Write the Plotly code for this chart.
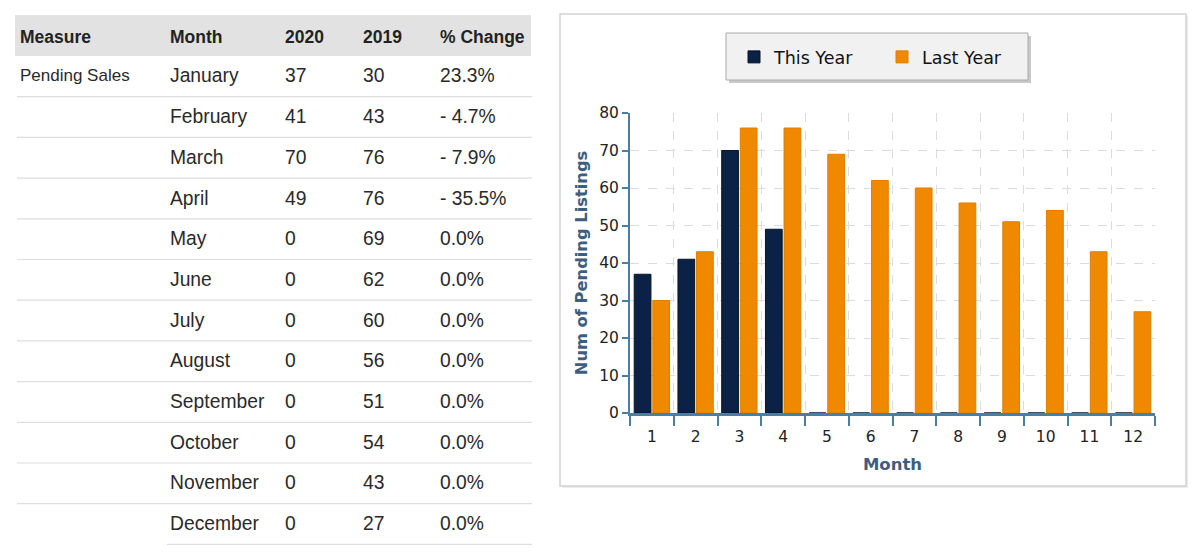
import plotly.graph_objects as go

W, H = 1200, 556

# ---------------- data ----------------
months_full = ["January", "February", "March", "April", "May", "June", "July",
               "August", "September", "October", "November", "December"]
month_nums = ["1", "2", "3", "4", "5", "6", "7", "8", "9", "10", "11", "12"]
this_year = [37, 41, 70, 49, 0, 0, 0, 0, 0, 0, 0, 0]
last_year = [30, 43, 76, 76, 69, 62, 60, 56, 51, 54, 43, 27]
pct_change = ["23.3%", "- 4.7%", "- 7.9%", "- 35.5%", "0.0%", "0.0%", "0.0%",
              "0.0%", "0.0%", "0.0%", "0.0%", "0.0%"]
measure_col = ["Pending Sales"] + [""] * 11
header_labels = ["Measure", "Month", "2020", "2019", "% Change"]
y_ticks = [0, 10, 20, 30, 40, 50, 60, 70, 80]

# page offset of the graph div (body margin)
OX, OY = 8, 8


def X(px):
    return (px - OX) / W


def Y(py):
    return 1 - (py - OY) / H


NAVY = "#0b2145"
ORANGE = "#f08800"
AXIS = "#4a7ea2"
TITLE = "#3d5e80"
CHART_FONT = "DejaVu Sans"

# ---------------- table ----------------
tbl_top = 19
hdr_h = 41
row_h = 40.7
col_w = [150, 115, 78, 77, 125]

fig = go.Figure()

fig.add_trace(go.Table(
    domain=dict(x=[X(12), X(12 + sum(col_w))], y=[0, Y(tbl_top)]),
    columnwidth=col_w,
    header=dict(
        values=["<b>%s</b>" % h for h in header_labels],
        align="left",
        height=hdr_h,
        fill=dict(color="rgba(0,0,0,0)"),
        line=dict(color="rgba(0,0,0,0)", width=0),
        font=dict(family="Liberation Sans, Arial", size=17.5, color="#222222"),
    ),
    cells=dict(
        values=[measure_col, months_full, this_year, last_year, pct_change],
        align="left",
        height=row_h,
        fill=dict(color="rgba(0,0,0,0)"),
        line=dict(color="rgba(0,0,0,0)", width=0),
        font=dict(family="Liberation Sans, Arial",
                  size=[17, 19.3, 19.3, 19.3, 19.3], color="#2a2a2a"),
    ),
))

# ---------------- bars ----------------
fig.add_trace(go.Bar(
    x=month_nums, y=this_year, name="This Year",
    marker=dict(color=NAVY, line=dict(color="#061628", width=1)),
))
fig.add_trace(go.Bar(
    x=month_nums, y=last_year, name="Last Year",
    marker=dict(color=ORANGE, line=dict(color="#e07e00", width=1)),
))

shapes = []
# table header background
shapes.append(dict(type="rect", xref="paper", yref="paper",
                   x0=X(15), x1=X(531), y0=Y(15), y1=Y(56),
                   fillcolor="#e2e2e2", line=dict(width=0), layer="below"))
# table row rules
for k in range(1, 13):
    yy = 56 + row_h * k
    x0 = 17 if k < 12 else 167
    shapes.append(dict(type="line", xref="paper", yref="paper",
                       x0=X(x0), x1=X(532), y0=Y(yy), y1=Y(yy),
                       line=dict(color="#dedede", width=1.2), layer="below"))
# chart panel shadow + panel
shapes.append(dict(type="rect", xref="paper", yref="paper",
                   x0=X(562), x1=X(1188), y0=Y(16), y1=Y(488),
                   fillcolor="#ececec", line=dict(width=0), layer="below"))
shapes.append(dict(type="rect", xref="paper", yref="paper",
                   x0=X(560), x1=X(1186), y0=Y(14), y1=Y(486),
                   fillcolor="white", line=dict(color="#d2d2d2", width=1.5),
                   layer="below"))
# legend box shadow + box
shapes.append(dict(type="rect", xref="paper", yref="paper",
                   x0=X(729), x1=X(1031), y0=Y(36), y1=Y(83),
                   fillcolor="#c9c9c9", line=dict(width=0), layer="above"))
shapes.append(dict(type="rect", xref="paper", yref="paper",
                   x0=X(726), x1=X(1028), y0=Y(33), y1=Y(80),
                   fillcolor="#f1f1f1", line=dict(color="#aaaaaa", width=1),
                   layer="above"))

fig.update_layout(
    width=W, height=H, autosize=False,
    margin=dict(l=0, r=0, t=0, b=0, pad=0, autoexpand=False),
    paper_bgcolor="white", plot_bgcolor="rgba(0,0,0,0)",
    barmode="group", bargap=0.15, bargroupgap=0.1,
    font=dict(family=CHART_FONT, size=16, color="#222222"),
    shapes=shapes,
    showlegend=True,
    legend=dict(
        orientation="h", x=X(734), xanchor="left", y=Y(39), yanchor="top",
        bgcolor="rgba(0,0,0,0)", borderwidth=0,
        font=dict(family=CHART_FONT, size=17.5, color="#111111"),
        entrywidth=103, entrywidthmode="pixels", traceorder="normal",
    ),
    xaxis=dict(
        domain=[X(630), X(1155)], type="category", automargin=False,
        tickson="boundaries", ticks="outside", ticklen=10, tickwidth=2,
        tickcolor=AXIS, showline=True, linecolor=AXIS, linewidth=3,
        showgrid=True, gridcolor="#dcdcdc", griddash="dash", gridwidth=1,
        ticklabelstandoff=7,
        tickfont=dict(family=CHART_FONT, size=15.5, color="#222222"),
        title=dict(text="<b>Month</b>",
                   font=dict(family=CHART_FONT, size=16.5, color=TITLE),
                   standoff=14),
        zeroline=False,
    ),
    yaxis=dict(
        domain=[Y(413), Y(113)], range=[0, 80], tickvals=y_ticks,
        automargin=False,
        ticks="outside", ticklen=6, tickwidth=2, tickcolor=AXIS,
        showline=True, linecolor=AXIS, linewidth=2,
        showgrid=True, gridcolor="#dcdcdc", griddash="dash", gridwidth=1,
        tickfont=dict(family=CHART_FONT, size=15.5, color="#222222"),
        title=dict(text="<b>Num of Pending Listings</b>",
                   font=dict(family=CHART_FONT, size=16.3, color=TITLE),
                   standoff=7),
        zeroline=False,
    ),
)

fig.write_html("out.html")
